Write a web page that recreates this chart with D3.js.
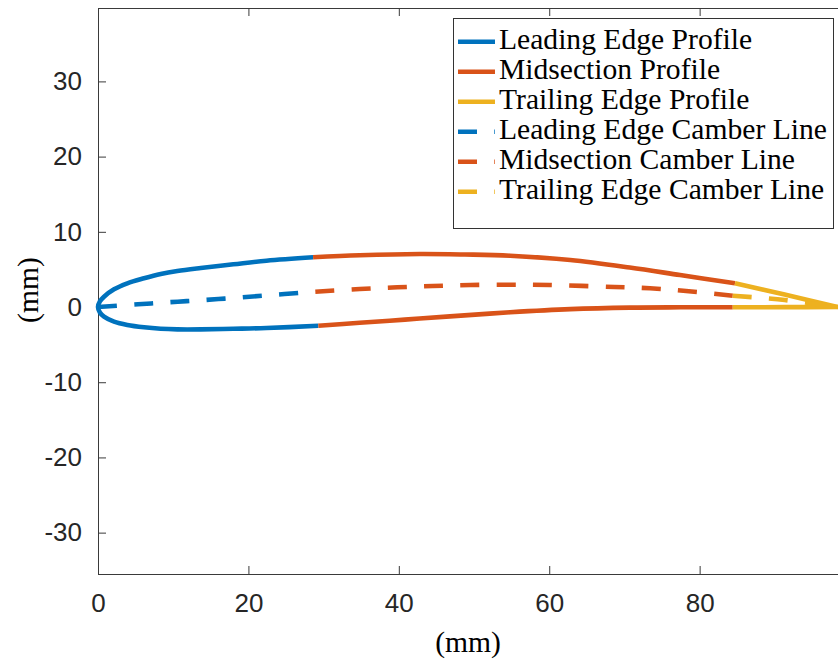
<!DOCTYPE html>
<html>
<head>
<meta charset="utf-8">
<script src="https://cdn.jsdelivr.net/npm/d3@7"></script>
<style>
	body { margin: 0; background: #fff; }
	.axis text { font-family: 'Liberation Sans', Arial, sans-serif; font-size: 26px; fill: #262626; }
	.axis path, .axis line { stroke: #3a3a3a; stroke-width: 1; }
	.axis-label, .legend text { font-family: 'Liberation Serif', 'Times New Roman', serif; fill: #000; }
</style>
</head>
<body>
<div id="chart"></div>
<script>
// tick values
const xTicks = [0, 20, 40, 60, 80];
const yTicks = [-30, -20, -10, 0, 10, 20, 30];

// airfoil points, [x mm, y mm]
const leadingProfile = [[29.3, -2.49], [22.4, -2.79], [18, -2.89], [13.66, -2.97], [10.55, -2.97], [8.34, -2.89],
	[6.12, -2.7], [3.9, -2.39], [2.13, -1.95], [0.8, -1.29], [0.25, -0.72], [0, 0], [0.25, 0.74], [0.8, 1.37],
	[2.13, 2.35], [3.9, 3.15], [6.12, 3.82], [8.34, 4.39], [10.55, 4.79], [13.66, 5.19], [18, 5.68],
	[22.4, 6.16], [28.6, 6.61]];
const midUpper = [[28.6, 6.61], [34.8, 6.88], [42.8, 7.05], [48.8, 6.98], [54.8, 6.82], [62.8, 6.25],
	[70.7, 5.25], [77.4, 4.25], [84.7, 3.15]];
const midLower = [[29.3, -2.49], [34.8, -2.1], [40.8, -1.68], [46.8, -1.24], [54.8, -0.7], [62.8, -0.28],
	[70.7, -0.08], [77.5, -0.04], [84.4, -0.03]];
const trailUpper = [[84.7, 3.15], [91.3, 1.65], [98.4, 0]];
const trailLower = [[84.4, -0.03], [91.3, -0.02], [98.4, 0]];
const leadingCamber = [[0, 0], [5.3, 0.36], [10.6, 0.71], [16, 1.06], [21.8, 1.5], [28.9, 2.03]];
const midCamber = [[28.9, 2.03], [34.8, 2.39], [39.8, 2.62], [44.5, 2.79], [49.5, 2.93], [55, 2.97],
	[60.1, 2.93], [68.7, 2.66], [73.4, 2.49], [78.2, 2.13], [84.4, 1.5]];
const trailCamber = [[84.4, 1.5], [91.3, 0.93], [98.4, 0]];

const legendNames = ['Leading Edge Profile', 'Midsection Profile', 'Trailing Edge Profile',
	'Leading Edge Camber Line', 'Midsection Camber Line', 'Trailing Edge Camber Line'];

(() => {
	const width = 838;
	const height = 664;
	const blue = '#0072BD', orange = '#D95319', yellow = '#EDB120';
	const dash = '19 17.3';

	const series = [
		{ name: legendNames[0], color: blue, dashed: false, parts: [leadingProfile] },
		{ name: legendNames[1], color: orange, dashed: false, parts: [midUpper, midLower] },
		{ name: legendNames[2], color: yellow, dashed: false, parts: [trailUpper, trailLower] },
		{ name: legendNames[3], color: blue, dashed: true, parts: [leadingCamber] },
		{ name: legendNames[4], color: orange, dashed: true, parts: [midCamber] },
		{ name: legendNames[5], color: yellow, dashed: true, parts: [trailCamber] }
	];

	const svg = d3.select('#chart').append('svg')
		.attr('width', width)
		.attr('height', height);

	const x = d3.scaleLinear().domain([0, 98.4]).range([98, 838]);
	const y = d3.scaleLinear().domain([-35.5, 39.76]).range([574, 8]);
	const fmt = d => String(d); // plain hyphen for negatives, like the original

	// axes (ticks point inward, mirrored on top)
	svg.append('g')
		.attr('class', 'axis')
		.attr('transform', `translate(0, ${y.range()[0]})`)
		.call(d3.axisBottom(x).tickValues(xTicks).tickFormat(fmt).tickSize(-8).tickSizeOuter(0).tickPadding(20));
	svg.append('g')
		.attr('class', 'axis')
		.attr('transform', `translate(0, ${y.range()[1]})`)
		.call(d3.axisTop(x).tickValues(xTicks).tickSize(-8).tickSizeOuter(0).tickFormat(''));
	svg.append('g')
		.attr('class', 'axis')
		.attr('transform', `translate(${x.range()[0]}, 0)`)
		.call(d3.axisLeft(y).tickValues(yTicks).tickFormat(fmt).tickSize(-8).tickSizeOuter(0).tickPadding(16));
	svg.selectAll('.axis .domain').attr('shape-rendering', 'crispEdges');

	// axis labels
	svg.append('text')
		.attr('class', 'axis-label')
		.attr('x', 468)
		.attr('y', 652)
		.attr('text-anchor', 'middle')
		.style('font-size', '29.6px')
		.text('(mm)');
	svg.append('text')
		.attr('class', 'axis-label')
		.attr('transform', 'translate(38, 290) rotate(-90)')
		.attr('text-anchor', 'middle')
		.style('font-size', '29.6px')
		.text('(mm)');

	// lines
	const line = d3.line()
		.x(d => x(d[0]))
		.y(d => y(d[1]))
		.curve(d3.curveCatmullRom.alpha(0.5));
	const plot = svg.append('g');
	series.forEach((s) => {
		plot.selectAll(null)
			.data(s.parts)
			.enter().append('path')
				.attr('d', line)
				.attr('fill', 'none')
				.attr('stroke', s.color)
				.attr('stroke-width', 4.6)
				.attr('stroke-dasharray', s.dashed ? dash : null);
	});

	// legend
	const legend = svg.append('g').attr('class', 'legend');
	legend.append('rect')
		.attr('x', 453.5)
		.attr('y', 18.5)
		.attr('width', 380)
		.attr('height', 210)
		.attr('fill', '#fff')
		.attr('stroke', '#333')
		.attr('stroke-width', 1);
	const rows = legend.selectAll('.legend-row')
		.data(series)
		.enter().append('g')
			.attr('class', 'legend-row')
			.attr('transform', (d, i) => `translate(0, ${41.7 + i * 30})`);
	rows.append('line')
		.attr('x1', 458)
		.attr('x2', 495)
		.attr('stroke', d => d.color)
		.attr('stroke-width', 4.6)
		.attr('stroke-dasharray', d => d.dashed ? dash : null);
	rows.append('text')
		.attr('x', 499)
		.attr('y', 7)
		.style('font-size', '29.6px')
		.text(d => d.name);
})();
</script>
</body>
</html>
